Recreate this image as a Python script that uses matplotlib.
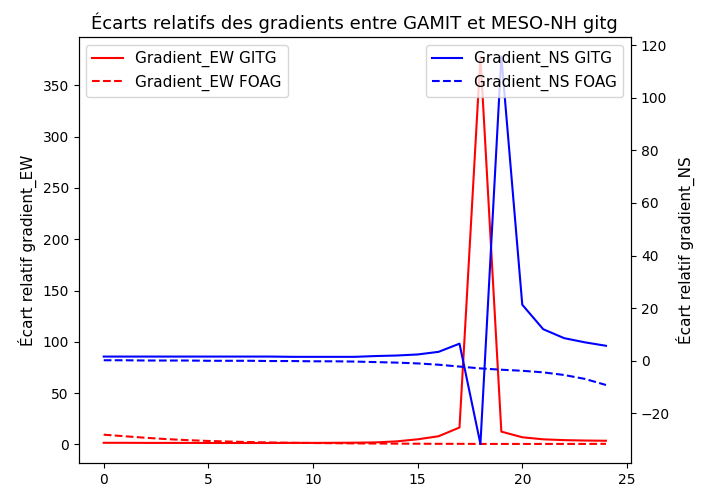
import matplotlib
matplotlib.use("Agg")
import matplotlib.pyplot as plt

x = list(range(25))

ew_gitg = [1.6, 1.6, 1.5, 1.5, 1.5, 1.4, 1.4, 1.4, 1.4, 1.5, 1.5, 1.6, 1.7, 2.0, 3.0, 5.0, 8.0, 16.5, 378,
           12.5, 7.0, 5.0, 4.2, 3.8, 3.6]
ew_foag = [9.5, 8.0, 6.5, 5.2, 4.2, 3.4, 2.8, 2.3, 1.9, 1.6, 1.4, 1.2, 1.0, 0.9, 0.8, 0.7, 0.6, 0.6, 0.5,
           0.5, 0.5, 0.5, 0.5, 0.5, 0.6]
ns_gitg = [1.6, 1.6, 1.6, 1.6, 1.6, 1.6, 1.6, 1.6, 1.6, 1.5, 1.5, 1.5, 1.5, 1.8, 2.0, 2.4, 3.4, 6.5, -31.6,
           115.6, 21.3, 12.0, 8.6, 7.0, 5.7]
ns_foag = [0.2, 0.2, 0.1, 0.1, 0.1, 0.0, 0.0, 0.0, -0.1, -0.1, -0.2, -0.2, -0.3, -0.5, -0.7, -1.0, -1.5,
           -2.2, -2.9, -3.4, -3.8, -4.4, -5.4, -6.9, -9.2]

fig, ax1 = plt.subplots(figsize=(7.02, 4.9), dpi=100)
fig.subplots_adjust(left=0.112, right=0.899, bottom=0.0545, top=0.924)

ax1.plot(x, ew_gitg, color='red', label='Gradient_EW GITG')
ax1.plot(x, ew_foag, color='red', linestyle='--', label='Gradient_EW FOAG')
ax1.set_ylabel('Écart relatif gradient_EW', fontsize=11)
ax1.legend(loc='upper left', fontsize=11)

ax2 = ax1.twinx()
ax2.plot(x, ns_gitg, color='blue', label='Gradient_NS GITG')
ax2.plot(x, ns_foag, color='blue', linestyle='--', label='Gradient_NS FOAG')
ax2.set_ylabel('Écart relatif gradient_NS', fontsize=11)
ax2.legend(loc='upper right', fontsize=11)

ax1.set_title('Écarts relatifs des gradients entre GAMIT et MESO-NH gitg', fontsize=13)

plt.savefig('out.png')
